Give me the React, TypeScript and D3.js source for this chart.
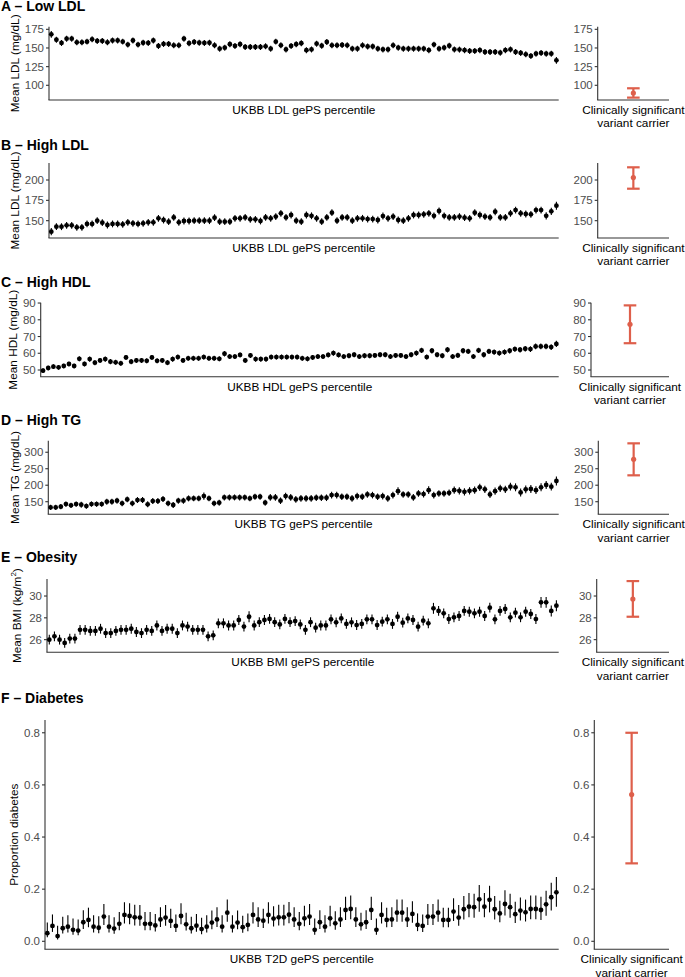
import React from "react";
import * as d3 from "d3";

// ---------- categories ----------
const percentile = d3.range(1, 101);

// ---------- text ----------
const panelTitles = ["A – Low LDL", "B – High LDL", "C – High HDL", "D – High TG", "E – Obesity", "F – Diabetes"];
const yTitles = ["Mean LDL (mg/dL)", "Mean LDL (mg/dL)", "Mean HDL (mg/dL)", "Mean TG (mg/dL)", "Mean BMI (kg/m|2|)", "Proportion diabetes"];
const xTitles = [
  "UKBB LDL gePS percentile",
  "UKBB LDL gePS percentile",
  "UKBB HDL gePS percentile",
  "UKBB TG gePS percentile",
  "UKBB BMI gePS percentile",
  "UKBB T2D gePS percentile",
];
const carrierTitle = ["Clinically significant", "variant carrier"];

// ---------- tick values ----------
const yTicks = [
  [100, 125, 150, 175],
  [150, 175, 200],
  [50, 60, 70, 80, 90],
  [150, 200, 250, 300],
  [26, 28, 30],
  [0, 0.2, 0.4, 0.6, 0.8],
];
const yDomains = [
  [80.3, 178.5],
  [128.7, 220.9],
  [46, 90.2],
  [111.8, 335],
  [24.84, 31.56],
  [-0.0307, 0.849],
];

// ---------- series: A Low LDL ----------
const ldlLowMean = [168.3,161,156.7,162.5,162.5,157.6,157.6,158.5,161.6,159.4,
159.4,157.6,160,160,158.5,154.5,160,154.5,157,156.7,
160,152.7,155.4,155.4,153.6,153.6,162.5,156.3,158,157,
156.7,157,153.6,149,150.4,155,152.7,155,151.3,151.3,
151.3,151.3,152.2,149,158.5,153.6,148,152.7,155,156.3,
147,148,155.8,153,158,153.6,153.6,154,153.6,149,
149,153.6,152,152,149,148,148,153.6,150.4,149,
149,149,149,149,147,154.5,149,150.4,153,148,
147.8,147,146,146,147,144.6,144.6,144.6,143.7,147,
148,144.6,143.3,141.5,139.3,142.4,143.3,142.4,142.4,133.5];
const ldlLowErr = [4.5,4,4,4,4,4,4,4,4,4,
4,4,4,4,4,4,4,4,4,4,
4,4,4,4,4,4,4,4,4,4,
4,4,4,4,4,4,4,4,4,4,
4,4,4,4,4,4,4,4,4,4,
4,4,4,4,4,4,4,4,4,4,
4,4,4,4,4,4,4,4,4,4,
4,4,4,4,4,4,4,4,4,4,
4,4,4,4,4,4,4,4,4,4,
4,4,4,4,4,4,4,4,4,4.5];

// ---------- series: B High LDL ----------
const ldlHighMean = [136.5,142.6,142.6,144.3,144.3,141.8,141.8,146,146,150,
147.5,144.7,146,146,145.5,148,146.7,146,146.7,148,
148,152.9,150.8,148.8,154,148,149.6,149.6,150,150,
150,150,153.7,148.8,148.8,148.8,152.9,152.9,154,151.6,
151.6,149.6,154,152.9,155,159,154,157,150,148.8,
157,156,152.9,148.8,154,159.8,150,154,154,150,
152.9,152.9,152,152,150.8,155.7,152.9,155,150.8,150,
152.9,157,157,157.8,159,156,161.9,156,154,154,
155,153.7,152.9,159.8,157,155,154,161,154,154,
159,163,159,158.2,157.8,163,163,156,161.5,168.4];
const ldlHighErr = [4.5,4.2,4.2,4.2,4.2,4.2,4.2,4.2,4.2,4.2,
4.2,4.2,4.2,4.2,4.2,4.2,4.2,4.2,4.2,4.2,
4.2,4.2,4.2,4.2,4.2,4.2,4.2,4.2,4.2,4.2,
4.2,4.2,4.2,4.2,4.2,4.2,4.2,4.2,4.2,4.2,
4.2,4.2,4.2,4.2,4.2,4.2,4.2,4.2,4.2,4.2,
4.2,4.2,4.2,4.2,4.2,4.2,4.2,4.2,4.2,4.2,
4.2,4.2,4.2,4.2,4.2,4.2,4.2,4.2,4.2,4.2,
4.2,4.2,4.2,4.2,4.2,4.2,4.2,4.2,4.2,4.2,
4.2,4.2,4.2,4.2,4.2,4.2,4.2,4.2,4.2,4.2,
4.2,4.2,4.2,4.2,4.2,4.2,4.2,4.5,4.5,5];

// ---------- series: C High HDL ----------
const hdlMean = [49.6,51.2,52,51.6,52.4,53.6,52.4,56.7,53.6,56.5,
54.4,55.7,56.5,55,54.6,54,57.5,55,55.7,55.7,
55.5,57.5,55.5,55.7,54.4,56.5,57.7,55.7,57,57,
57,57.7,57,57,56.7,59.7,58,58,59,55.7,
58.7,56.5,56.5,56.5,57.7,57.7,57.7,57.7,57.7,57.7,
57,56.7,57.5,58,58,59,60.1,59,58,58.5,
59.1,58,58.5,58.5,58.7,59.1,59.1,58,58.7,58.7,
58,59.1,60.1,61.7,57.7,61.5,59.1,58.5,62.1,58,
58.7,61.5,61.1,58,61.7,59.1,61.1,60.7,60.1,60.7,
61.5,62.5,62.1,62.7,62.5,64.1,64.1,64.1,63.7,65.6];
const hdlErr = [1.4,1.4,1.4,1.4,1.4,1.4,1.4,1.5,1.4,1.5,
1.5,1.5,1.5,1.5,1.5,1.5,1.5,1.5,1.5,1.5,
1.5,1.5,1.5,1.5,1.5,1.5,1.5,1.5,1.5,1.5,
1.5,1.5,1.5,1.5,1.5,1.6,1.5,1.5,1.5,1.5,
1.5,1.5,1.5,1.5,1.5,1.5,1.5,1.5,1.5,1.5,
1.5,1.5,1.5,1.5,1.5,1.5,1.6,1.5,1.5,1.5,
1.5,1.5,1.5,1.5,1.5,1.5,1.5,1.5,1.5,1.5,
1.5,1.5,1.6,1.6,1.5,1.6,1.5,1.5,1.6,1.5,
1.6,1.6,1.6,1.5,1.6,1.6,1.6,1.6,1.6,1.6,
1.6,1.6,1.6,1.7,1.7,1.7,1.7,1.7,1.7,1.8];

// ---------- series: D High TG ----------
const tgMean = [132.8,132.8,134.8,142.9,138.9,142.9,140.9,136.8,142.9,142.9,
142.9,150,150,153,145,157,145,155,155,142,
152,152,158,145,140,153,153,160,160,160,
167,160,145,147,163,163,163,163,163,160,
165,165,147,163,163,153,167,163,157,160,
160,160,162,162,162,170,170,165,165,160,
167,165,172,170,165,167,160,170,182,172,
172,163,175,173,185,170,175,175,177,185,
183,180,183,185,193.6,187.5,172,182,190.5,187.5,
195.6,193.6,178,187.5,188.5,185,193.6,200.7,195.6,212.8];
const tgErr = [8,8,8,8,8,8,9,8,8,8,
8,9,9,9,9,9,9,9,9,9,
9,9,9,9,9,9,9,9,9,9,
11,9,9,9,9,9,9,9,9,9,
9,9,9,10,10,10,10,10,10,10,
10,10,10,10,10,10,10,10,10,10,
10,10,10,10,10,10,10,10,12,10,
10,10,10,10,12,10,10,10,10,11,
11,11,11,11,11,11,11,11,11,11,
12,12,12,12,12,12,12,12,12,14];

// ---------- series: E Obesity ----------
const bmiMean = [26,26.3,26,25.7,26.1,26.1,26.9,26.9,26.8,26.8,
27,26.6,26.6,26.8,26.9,26.9,27,26.7,26.6,26.9,
26.8,27.3,26.8,27,27,26.6,27.3,27.2,26.9,26.9,
26.9,26.3,26.4,27.5,27.5,27.3,27.3,27.8,27.2,28.1,
27.3,27.6,27.8,27.9,27.6,27.4,27.9,27.6,27.7,27.4,
26.9,27.6,27.1,27.3,27.3,27.86,27.59,27.95,27.44,27.59,
27.34,27.44,27.86,27.86,27.34,27.65,27.86,27.44,28.1,27.56,
27.95,27.8,27.19,27.74,27.5,28.87,28.63,28.41,27.89,28.05,
28.17,28.63,28.56,28.41,28.56,28.17,28.93,27.86,28.63,28.81,
28.05,28.47,28.05,28.56,28.35,27.89,29.42,29.42,28.63,29.11];
const bmiErr = [0.45,0.45,0.45,0.45,0.45,0.45,0.45,0.45,0.45,0.45,
0.45,0.45,0.45,0.45,0.45,0.45,0.45,0.45,0.45,0.45,
0.45,0.45,0.45,0.45,0.45,0.45,0.45,0.45,0.45,0.45,
0.45,0.45,0.45,0.45,0.45,0.45,0.45,0.45,0.45,0.5,
0.45,0.45,0.45,0.45,0.45,0.45,0.45,0.45,0.45,0.45,
0.45,0.45,0.45,0.45,0.45,0.45,0.45,0.45,0.45,0.45,
0.45,0.45,0.45,0.45,0.45,0.45,0.45,0.45,0.45,0.45,
0.45,0.45,0.45,0.45,0.45,0.5,0.45,0.45,0.45,0.45,
0.45,0.45,0.45,0.45,0.45,0.45,0.45,0.45,0.45,0.45,
0.45,0.45,0.45,0.45,0.45,0.45,0.5,0.5,0.5,0.5];

// ---------- series: F Diabetes (proportion with CI) ----------
const t2dProp = [.031,.059,.020,.050,.056,.044,.041,.073,.082,.056,
.052,.095,.056,.049,.067,.101,.097,.092,.091,.067,
.067,.061,.084,.091,.078,.059,.097,.065,.050,.060,
.047,.056,.072,.084,.056,.110,.056,.072,.054,.063,
.101,.084,.079,.101,.087,.092,.092,.102,.084,.067,
.088,.095,.044,.073,.056,.088,.069,.084,.120,.124,
.084,.065,.073,.120,.044,.101,.082,.084,.110,.110,
.084,.105,.063,.059,.095,.095,.110,.082,.082,.114,
.091,.123,.133,.131,.161,.133,.159,.123,.107,.143,
.131,.104,.118,.111,.124,.124,.120,.142,.169,.188];
const t2dLow = [.016,.036,.007,.030,.034,.025,.023,.047,.054,.034,
.031,.063,.034,.029,.042,.068,.065,.061,.060,.042,
.042,.038,.055,.060,.051,.036,.065,.041,.030,.037,
.027,.034,.046,.055,.034,.075,.034,.046,.033,.039,
.068,.055,.051,.068,.057,.061,.061,.069,.055,.042,
.058,.063,.025,.047,.034,.058,.044,.055,.082,.085,
.055,.041,.047,.082,.025,.068,.054,.055,.075,.075,
.055,.071,.039,.036,.063,.063,.075,.054,.054,.078,
.060,.084,.092,.090,.113,.092,.111,.084,.073,.099,
.090,.070,.080,.076,.085,.085,.082,.098,.118,.133];
const t2dHigh = [.072,.103,.060,.094,.100,.087,.084,.119,.129,.100,
.096,.143,.100,.092,.112,.150,.146,.140,.139,.112,
.112,.105,.131,.139,.125,.103,.146,.110,.094,.105,
.090,.100,.118,.131,.100,.160,.100,.118,.098,.107,
.150,.131,.125,.150,.134,.140,.140,.151,.131,.112,
.136,.143,.087,.119,.100,.136,.115,.131,.171,.176,
.131,.110,.119,.171,.087,.150,.129,.131,.160,.160,
.131,.154,.107,.103,.143,.143,.160,.129,.129,.165,
.139,.174,.185,.182,.216,.185,.213,.174,.156,.196,
.182,.152,.168,.160,.176,.176,.171,.194,.225,.247];

// ---------- carriers ----------
const carrierMean = [89.7, 203, 77.3, 278.8, 29.72, 0.563];
const carrierLow = [83.5, 189.3, 66, 230, 28.1, 0.299];
const carrierHigh = [96, 215.6, 88.6, 327, 31.37, 0.8];

// ---------- layout ----------
const W = 685;
const H = 977;
const LEFT_END = 558.7;
const RIGHT_END = 669;
const FONT = "'Liberation Sans', Arial, Helvetica, sans-serif";
const RED = "#DE5F4B";
const AXIS = "#333333";
const TICKTXT = "#4D4D4D";
const TITLE_SIZE = 11.8;

const layout = [
  { top: 26.7, bottom: 100, leftAxis: 49, rightAxis: 597.7, titleY: 11, ylabX: 15 },
  { top: 163, bottom: 238, leftAxis: 49, rightAxis: 597.7, titleY: 150, ylabX: 15 },
  { top: 302.7, bottom: 376.7, leftAxis: 40.7, rightAxis: 591, titleY: 287, ylabX: 13 },
  { top: 440.7, bottom: 514.3, leftAxis: 48.3, rightAxis: 598.3, titleY: 424.5, ylabX: 15 },
  { top: 579, bottom: 652.3, leftAxis: 47, rightAxis: 596.7, titleY: 562, ylabX: 16.5 },
  { top: 720, bottom: 949.3, leftAxis: 45, rightAxis: 594.3, titleY: 703, ylabX: 14.3 },
];

type Row = { p: number; lo: number; hi: number; m: number };

const symRows = (m: number[], e: number[]): Row[] =>
  percentile.map((p, i) => ({ p, m: m[i], lo: m[i] - e[i], hi: m[i] + e[i] }));

const panelRows: Row[][] = [
  symRows(ldlLowMean, ldlLowErr),
  symRows(ldlHighMean, ldlHighErr),
  symRows(hdlMean, hdlErr),
  symRows(tgMean, tgErr),
  symRows(bmiMean, bmiErr),
  percentile.map((p, i) => ({ p, m: t2dProp[i], lo: t2dLow[i], hi: t2dHigh[i] })),
];

function YTitle({ text, x, y }: { text: string; x: number; y: number }) {
  const parts = text.split("|");
  return (
    <text
      transform={`translate(${x},${y}) rotate(-90)`}
      textAnchor="middle"
      dominantBaseline="central"
      fontSize={TITLE_SIZE}
      fontFamily={FONT}
      fill="#000"
    >
      {parts.length === 1 ? (
        text
      ) : (
        <>
          <tspan>{parts[0]}</tspan>
          <tspan dy={-4} fontSize={8}>{parts[1]}</tspan>
          <tspan dy={4}>{parts[2]}</tspan>
        </>
      )}
    </text>
  );
}

function Panel({ k }: { k: number }) {
  const L = layout[k];
  const rows = panelRows[k];
  const y = d3.scaleLinear().domain(yDomains[k]).range([L.bottom, L.top]);
  const x = d3.scaleLinear().domain([0.55, 100.45]).range([L.leftAxis, LEFT_END]);
  const rx = d3.scalePoint<string>().domain(["carrier"]).range([L.rightAxis, RIGHT_END]).padding(0.5);
  const fmt = k === 5 ? d3.format(".1f") : d3.format("d");
  const ticks = yTicks[k];
  const cx = rx("carrier") as number;

  const axisY = (ax: number) => (
    <g>
      <line x1={ax} x2={ax} y1={L.top} y2={L.bottom} stroke={AXIS} strokeWidth={1.1} />
      {ticks.map((t) => (
        <g key={t}>
          <line x1={ax - 3} x2={ax} y1={y(t)} y2={y(t)} stroke={AXIS} strokeWidth={1.1} />
          <text
            x={ax - 5}
            y={y(t)}
            dy="0.36em"
            textAnchor="end"
            fontSize={11.5}
            fontFamily={FONT}
            fill={TICKTXT}
          >
            {fmt(t)}
          </text>
        </g>
      ))}
    </g>
  );

  return (
    <g>
      <text x={1} y={L.titleY} fontSize={14} fontWeight="bold" fontFamily={FONT} fill="#000">
        {panelTitles[k]}
      </text>
      <YTitle text={yTitles[k]} x={L.ylabX} y={(L.top + L.bottom) / 2} />

      {/* left plot */}
      {axisY(L.leftAxis)}
      <line x1={L.leftAxis - 0.55} x2={LEFT_END} y1={L.bottom} y2={L.bottom} stroke={AXIS} strokeWidth={1.1} />
      {rows.map((r) => (
        <g key={r.p}>
          <line x1={x(r.p)} x2={x(r.p)} y1={y(r.lo)} y2={y(r.hi)} stroke="#000" strokeWidth={1.1} />
          <circle cx={x(r.p)} cy={y(r.m)} r={2.4} fill="#000" />
        </g>
      ))}
      <text
        x={(L.leftAxis + LEFT_END) / 2}
        y={L.bottom + 14}
        textAnchor="middle"
        fontSize={TITLE_SIZE}
        fontFamily={FONT}
        fill="#000"
      >
        {xTitles[k]}
      </text>

      {/* right plot */}
      {axisY(L.rightAxis)}
      <line x1={L.rightAxis - 0.55} x2={RIGHT_END} y1={L.bottom} y2={L.bottom} stroke={AXIS} strokeWidth={1.1} />
      <line x1={cx} x2={cx} y1={y(carrierLow[k])} y2={y(carrierHigh[k])} stroke={RED} strokeWidth={2.2} />
      <line x1={cx - 6.3} x2={cx + 6.3} y1={y(carrierLow[k])} y2={y(carrierLow[k])} stroke={RED} strokeWidth={2.2} />
      <line x1={cx - 6.3} x2={cx + 6.3} y1={y(carrierHigh[k])} y2={y(carrierHigh[k])} stroke={RED} strokeWidth={2.2} />
      <circle cx={cx} cy={y(carrierMean[k])} r={2.6} fill={RED} />
      {carrierTitle.map((t, i) => (
        <text
          key={t}
          x={(L.rightAxis + RIGHT_END) / 2}
          y={L.bottom + 14 + i * 13.3}
          textAnchor="middle"
          fontSize={TITLE_SIZE}
          fontFamily={FONT}
          fill="#000"
        >
          {t}
        </text>
      ))}
    </g>
  );
}

export default function App() {
  return (
    <svg
      width={W}
      height={H}
      viewBox={`0 0 ${W} ${H}`}
      style={{ position: "absolute", left: 0, top: 0, background: "#fff" }}
    >
      <rect width={W} height={H} fill="#fff" />
      {panelTitles.map((_, k) => (
        <Panel key={k} k={k} />
      ))}
    </svg>
  );
}
